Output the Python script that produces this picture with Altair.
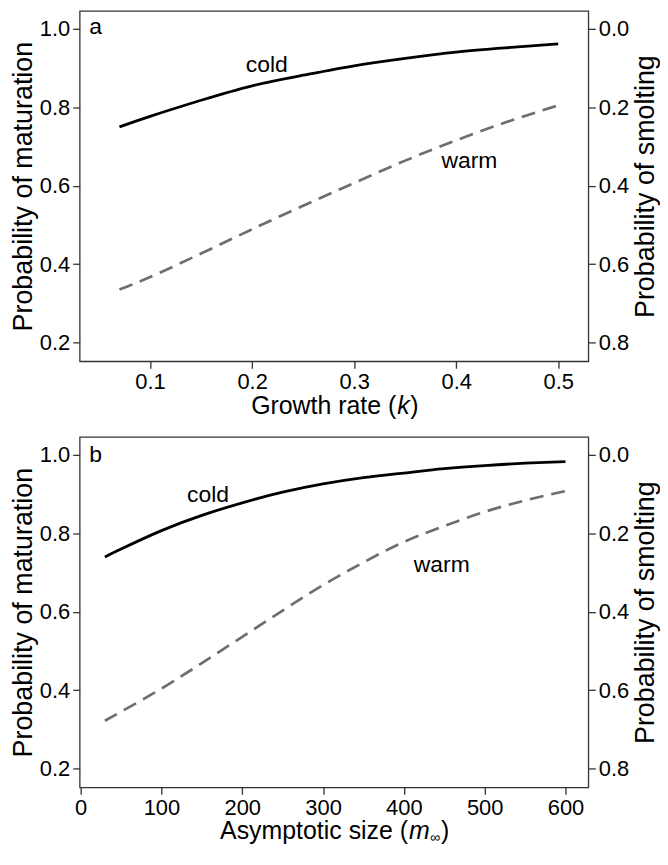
import altair as alt
import pandas as pd

# ---- data ----
k_vals = [0.07, 0.10, 0.15, 0.20, 0.25, 0.30, 0.35, 0.40, 0.45, 0.50]
cold_k = [0.750, 0.777, 0.818, 0.855, 0.882, 0.906, 0.925, 0.941, 0.952, 0.962]
warm_k = [0.335, 0.367, 0.427, 0.489, 0.549, 0.607, 0.664, 0.716, 0.763, 0.805]

m_vals = [30, 50, 100, 150, 200, 250, 300, 350, 400, 450, 500, 550, 600]
cold_m = [0.740, 0.760, 0.807, 0.846, 0.878, 0.905, 0.926, 0.942, 0.954, 0.965, 0.973, 0.979, 0.983]
warm_m = [0.322, 0.345, 0.404, 0.469, 0.536, 0.603, 0.668, 0.726, 0.778, 0.819, 0.855, 0.884, 0.908]

k_ticks = [0.1, 0.2, 0.3, 0.4, 0.5]
m_ticks = [0, 100, 200, 300, 400, 500, 600]
p_ticks = [0.2, 0.4, 0.6, 0.8, 1.0]
s_ticks = [0.0, 0.2, 0.4, 0.6, 0.8]

# annotation labels (text, x, p)
labels_a = [("a", 0.0466, 1.004), ("cold", 0.2144, 0.907), ("warm", 0.4129, 0.664)]
labels_b = [("b", 18.5, 1.001), ("cold", 157.7, 0.8985), ("warm", 446.9, 0.720)]

W, H = 511, 352
FONT = "Liberation Sans"
P_DOMAIN = [0.152, 1.046]


def panel(xs, cold, warm, xdomain, xticks, xfmt, labels, title_pre, title_it, title_sub, x0, toff):
    df = pd.DataFrame({
        "x": list(xs) * 2,
        "p": list(cold) + list(warm),
        "series": ["cold"] * len(xs) + ["warm"] * len(xs),
    })
    df["smolt"] = 1 - df["p"]
    xenc = alt.X("x:Q", scale=alt.Scale(domain=xdomain, nice=False, zero=False),
                 axis=alt.Axis(values=xticks, format=xfmt, title=None, labelPadding=3))
    yenc = alt.Y("p:Q", scale=alt.Scale(domain=P_DOMAIN, nice=False, zero=False),
                 axis=alt.Axis(values=p_ticks, format=".1f", title="Probability of maturation",
                               orient="left", labelPadding=3, titlePadding=2))
    base = alt.Chart(df)
    cold_line = base.transform_filter(alt.datum.series == "cold").mark_line(
        color="black", strokeWidth=2.8, interpolate="natural").encode(x=xenc, y=yenc)
    warm_line = base.transform_filter(alt.datum.series == "warm").mark_line(
        color="#6e6e6e", strokeWidth=2.7, strokeDash=[14, 8], interpolate="natural").encode(x=xenc, y=yenc)

    lab_df = pd.DataFrame({"label": [l[0] for l in labels], "x": [l[1] for l in labels],
                           "p": [l[2] for l in labels]})
    txt = alt.Chart(lab_df).mark_text(fontSize=23, font=FONT, color="black", baseline="middle").encode(
        x="x:Q", y="p:Q", text="label:N")

    # composed x-axis title
    tdf = pd.DataFrame({"x": [x0]})
    ty = H + toff
    t1 = alt.Chart(tdf).mark_text(text=title_pre, fontSize=25, font=FONT, align="right",
                                  baseline="alphabetic", color="black").encode(x="x:Q", y=alt.value(ty))
    t2 = alt.Chart(tdf).mark_text(text=title_it, fontSize=25, font=FONT, fontStyle="italic", align="left",
                                  dx=1, baseline="alphabetic", color="black").encode(x="x:Q", y=alt.value(ty))
    layers = [cold_line, warm_line, txt, t1, t2]
    if title_sub:
        t3 = alt.Chart(tdf).mark_text(text="\u221e", fontSize=14, font=FONT, align="left", dx=22, dy=3,
                                      baseline="alphabetic", color="black").encode(x="x:Q", y=alt.value(ty))
        t4 = alt.Chart(tdf).mark_text(text=")", fontSize=25, font=FONT, align="left", dx=33,
                                      baseline="alphabetic", color="black").encode(x="x:Q", y=alt.value(ty))
        layers += [t3, t4]
    else:
        t4 = alt.Chart(tdf).mark_text(text=")", fontSize=25, font=FONT, align="left", dx=14,
                                      baseline="alphabetic", color="black").encode(x="x:Q", y=alt.value(ty))
        layers += [t4]

    left = alt.layer(*layers)
    right = base.mark_line(opacity=0).encode(
        x=xenc,
        y=alt.Y("smolt:Q", scale=alt.Scale(domain=[1 - P_DOMAIN[1], 1 - P_DOMAIN[0]], reverse=True,
                                           nice=False, zero=False),
                axis=alt.Axis(values=s_ticks, format=".1f", title="Probability of smolting", orient="right",
                              titleAngle=270, titleBaseline="top", labelPadding=3, titlePadding=4)),
    )
    return alt.layer(left, right).resolve_scale(y="independent").properties(width=W, height=H)


pa = panel(k_vals, cold_k, warm_k, [0.031, 0.5295], k_ticks, ".1f", labels_a,
           "Growth rate (", "k", False, 0.3413, 53)
pb = panel(m_vals, cold_m, warm_m, [-1.2, 628.3], m_ticks, "d", labels_b,
           "Asymptotic size (", "m", True, 405.2, 52)

chart = alt.vconcat(pa, pb, spacing=16).properties(
    padding={"left": 0, "top": 0, "right": 0, "bottom": 0}
).configure_view(stroke="#333333", strokeWidth=1.3).configure_axis(
    domain=False, grid=False, tickColor="#333333", tickSize=7, tickWidth=1.3,
    labelFont=FONT, labelFontSize=22, labelColor="black",
    titleFont=FONT, titleFontSize=27, titleFontWeight="normal", titleColor="black",
    labelOverlap=False, labelFlush=False,
)

chart.save("out.html", embed_options={"renderer": "svg", "actions": False})
